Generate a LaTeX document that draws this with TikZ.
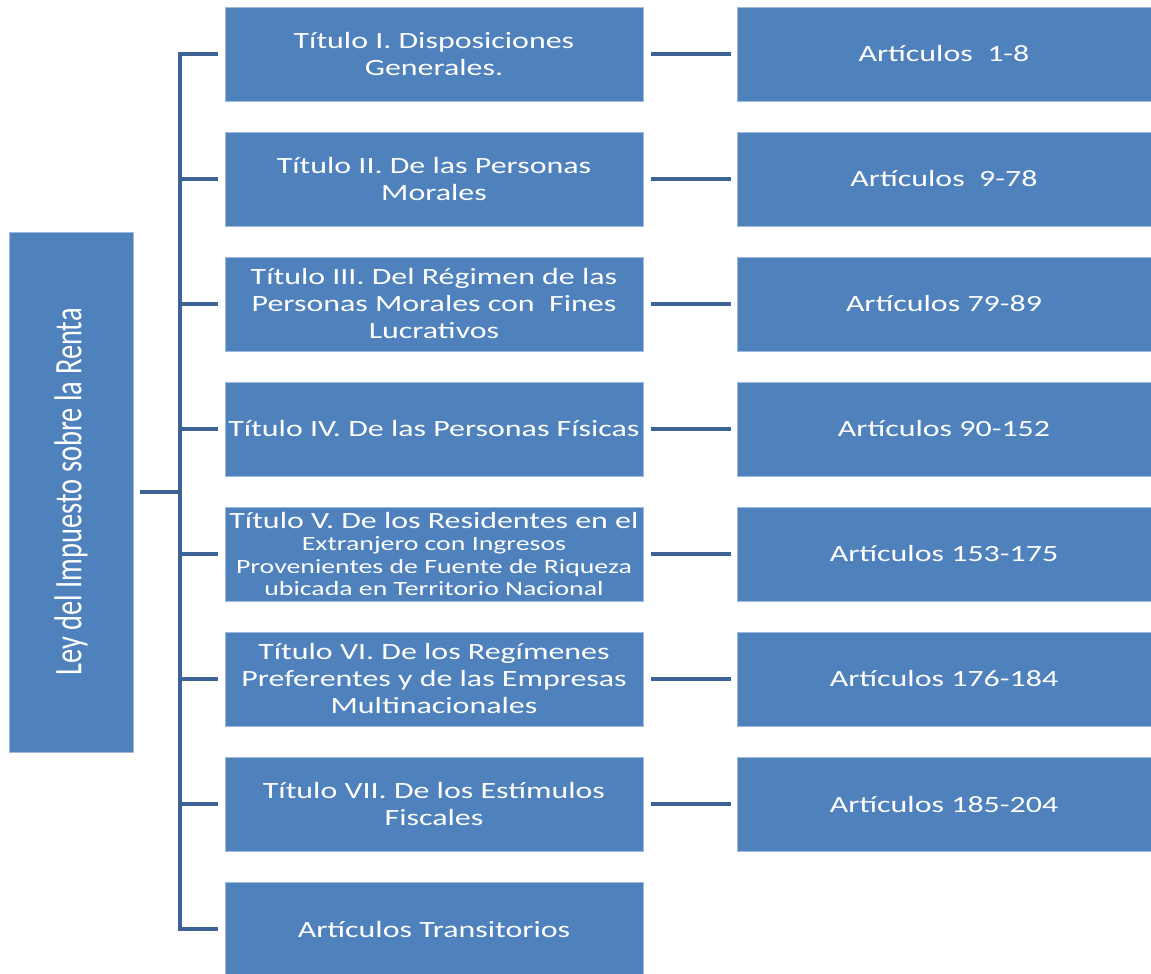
\documentclass[tikz,border=0pt]{standalone}
\usepackage{fontspec}
\setmainfont{Carlito}
\newfontfamily\widefont[FakeStretch=1.37]{Carlito}
\newfontfamily\tallfont[FakeStretch=0.73]{Carlito}
\usetikzlibrary{positioning}
\definecolor{boxblue}{RGB}{79,129,189}
\definecolor{linkblue}{RGB}{61,99,150}

\begin{document}
\begin{tikzpicture}[x=1pt, y=1pt, node distance=31pt and 94pt,
    box/.style={draw=boxblue!55!white, fill=boxblue, line width=0.8pt, rectangle, minimum width=418pt, minimum height=94pt, inner sep=0pt, outer sep=0pt, align=center, text=white, font=\widefont\fontsize{23.3}{27}\selectfont},
    artbox/.style={box, minimum width=414pt},
    link/.style={draw=linkblue, line width=4pt}]
    \useasboundingbox (0,0) rectangle (1151,974);

    % Left label
    \node[box, minimum width=124pt, minimum height=520pt] (ley) at (71,482) {\rotatebox{90}{\tallfont\fontsize{39}{39}\selectfont Ley del Impuesto sobre la Renta}};

    % Titles
    \node[box] (t1) at (434,920) {Título I. Disposiciones\\Generales.};
    \node[box, below=of t1] (t2) {Título II. De las Personas\\Morales};
    \node[box, below=of t2] (t3) {Título III. Del Régimen de las\\Personas Morales con\ \ Fines\\Lucrativos};
    \node[box, below=of t3] (t4) {Título IV. De las Personas Físicas};
    \node[box, below=of t4, font=\widefont\fontsize{20.3}{22.5}\selectfont] (t5) {\fontsize{23.3}{22.5}\selectfont Título V. De los Residentes en el\\Extranjero con Ingresos\\Provenientes de Fuente de Riqueza\\ubicada en Territorio Nacional};
    \node[box, below=of t5] (t6) {Título VI. De los Regímenes\\Preferentes y de las Empresas\\Multinacionales};
    \node[box, below=of t6] (t7) {Título VII. De los Estímulos\\Fiscales};
    \node[box, below=of t7] (t8) {Artículos Transitorios};

    % Articles
    \node[artbox, right=of t1] (a1) {Artículos\ \ 1-8};
    \node[artbox, right=of t2] (a2) {Artículos\ \ 9-78};
    \node[artbox, right=of t3] (a3) {Artículos 79-89};
    \node[artbox, right=of t4] (a4) {Artículos 90-152};
    \node[artbox, right=of t5] (a5) {Artículos 153-175};
    \node[artbox, right=of t6] (a6) {Artículos 176-184};
    \node[artbox, right=of t7] (a7) {Artículos 185-204};

    % Bracket
    \coordinate (sp) at ([xshift=47pt]ley.east);
    \draw[link] ([xshift=7pt]ley.east) -- (sp);
    \draw[link] ([xshift=-7pt]t1.west) -| (sp) |- ([xshift=-7pt]t8.west);
    \foreach \i in {2,...,7}
        \draw[link] (sp |- t\i.west) -- ([xshift=-7pt]t\i.west);

    % Links to articles
    \foreach \i in {1,...,7}
        \draw[link] ([xshift=8pt]t\i.east) -- ([xshift=-6pt]a\i.west);
\end{tikzpicture}
\end{document}
